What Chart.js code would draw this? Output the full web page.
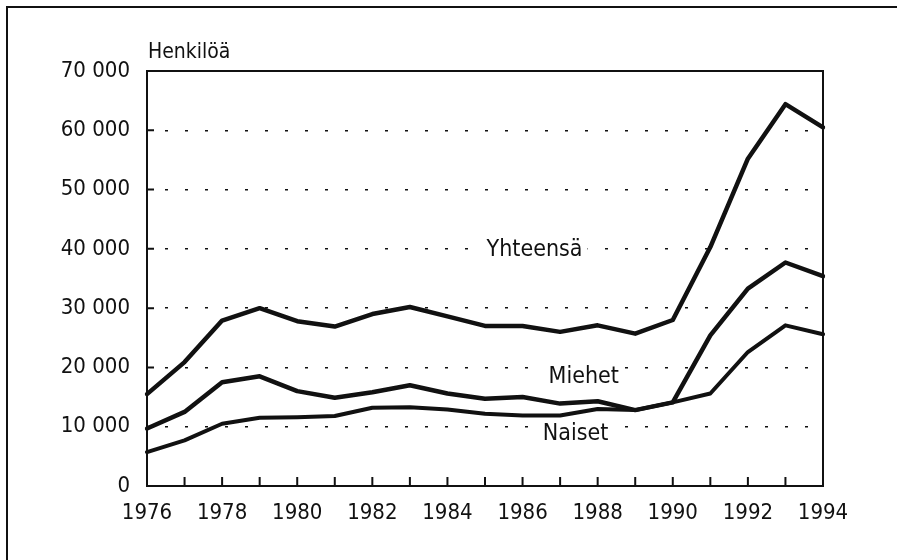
<!DOCTYPE html>
<html>
<head>
<meta charset="utf-8">
<script src="https://cdn.jsdelivr.net/npm/chart.js@4"></script>
<style>
  html, body { margin: 0; padding: 0; background: #fff; }
  #wrap { width: 897px; height: 560px; }
</style>
</head>
<body>
<div id="wrap"><canvas id="workChart" width="897" height="560"></canvas></div>
<script>
// data
const years = [1976, 1977, 1978, 1979, 1980, 1981, 1982, 1983, 1984, 1985,
               1986, 1987, 1988, 1989, 1990, 1991, 1992, 1993, 1994];
const yhteensa = [15500, 20900, 27900, 30000, 27800, 26900, 29000, 30200, 28600, 27000,
                  27000, 26000, 27100, 25700, 28000, 40300, 55200, 64400, 60500];
const miehet = [9700, 12500, 17500, 18500, 16000, 14900, 15800, 17000, 15600, 14700,
                15000, 13900, 14300, 12800, 14100, 25400, 33300, 37700, 35400];
const naiset = [5700, 7700, 10500, 11500, 11600, 11800, 13200, 13300, 12900, 12200,
                11900, 11900, 13000, 12800, 14100, 15600, 22600, 27100, 25600];
const yTicks = [0, 10000, 20000, 30000, 40000, 50000, 60000, 70000];
const unitLabel = 'Henkilöä';
// series names written inside the plot: [text, year index, value]
const seriesLabels = [
    ['Yhteensä', 10.32, 39800],
    ['Miehet', 11.63, 18400],
    ['Naiset', 11.41, 8700]
];

const FONT = "'Liberation Sans Narrow', 'DejaVu Sans Condensed', sans-serif";
const INK = '#111';
Chart.defaults.font.family = FONT;
Chart.defaults.font.size = 22;
Chart.defaults.color = INK;

const decorations = {
    id: 'decorations',
    afterDraw(chart) {
        const ctx = chart.ctx;
        const area = chart.chartArea;
        const xs = chart.scales.x;
        const ys = chart.scales.y;
        ctx.save();

        // outer frame (only top and left are in view)
        ctx.strokeStyle = INK;
        ctx.lineWidth = 2;
        ctx.beginPath();
        ctx.moveTo(7, 560);
        ctx.lineTo(7, 7);
        ctx.lineTo(897, 7);
        ctx.stroke();

        // plot box
        ctx.strokeRect(area.left, area.top, area.right - area.left, area.bottom - area.top);

        // inward ticks
        ctx.beginPath();
        years.forEach((y, i) => {
            const px = xs.getPixelForValue(i);
            ctx.moveTo(px, area.bottom);
            ctx.lineTo(px, area.bottom - 9);
        });
        yTicks.forEach(v => {
            const py = ys.getPixelForValue(v);
            ctx.moveTo(area.left, py);
            ctx.lineTo(area.left + 7, py);
        });
        ctx.stroke();

        // unit label above the axis
        ctx.font = '21px ' + FONT;
        ctx.fillStyle = INK;
        ctx.textAlign = 'left';
        ctx.textBaseline = 'alphabetic';
        ctx.fillText(unitLabel, area.left + 1, 58);

        // series names with a white knock-out behind them
        ctx.font = '23px ' + FONT;
        ctx.textAlign = 'center';
        ctx.textBaseline = 'middle';
        seriesLabels.forEach(([text, idx, val]) => {
            const px = xs.getPixelForValue(idx);
            const py = ys.getPixelForValue(val);
            const w = ctx.measureText(text).width;
            ctx.fillStyle = '#fff';
            ctx.fillRect(px - w / 2 - 5, py - 13, w + 10, 26);
            ctx.fillStyle = INK;
            ctx.fillText(text, px, py);
        });
        ctx.restore();
    }
};

const ctx = document.getElementById('workChart').getContext('2d');
const lineStyle = { borderColor: INK, pointRadius: 0, tension: 0, fill: false, borderJoinStyle: 'round', borderCapStyle: 'round' };

new Chart(ctx, {
    type: 'line',
    data: {
        labels: years,
        datasets: [
            Object.assign({ label: 'Yhteensä', data: yhteensa, borderWidth: 4.5 }, lineStyle),
            Object.assign({ label: 'Miehet', data: miehet, borderWidth: 4.5 }, lineStyle),
            Object.assign({ label: 'Naiset', data: naiset, borderWidth: 4 }, lineStyle)
        ]
    },
    options: {
        responsive: false,
        animation: false,
        layout: { padding: { left: 0, top: 71, right: 74, bottom: 0 } },
        plugins: { legend: { display: false }, tooltip: { enabled: false } },
        scales: {
            x: {
                type: 'category',
                offset: false,
                grid: { display: false, drawTicks: false },
                border: { display: false },
                ticks: {
                    autoSkip: false,
                    maxRotation: 0,
                    padding: 14,
                    callback: (v, i) => (years[i] % 2 === 0 ? String(years[i]) : '')
                },
                afterFit: scale => { scale.height = 74; }
            },
            y: {
                min: 0,
                max: 70000,
                grid: { color: INK, lineWidth: 1.5, drawTicks: false },
                border: { display: false, dash: [3, 17], dashOffset: -18 },
                ticks: {
                    stepSize: 10000,
                    padding: 17,
                    callback: v => (v === 0 ? '0' : (v / 1000) + ' 000')
                },
                afterFit: scale => { scale.width = 147; }
            }
        }
    },
    plugins: [decorations]
});
</script>
</body>
</html>
